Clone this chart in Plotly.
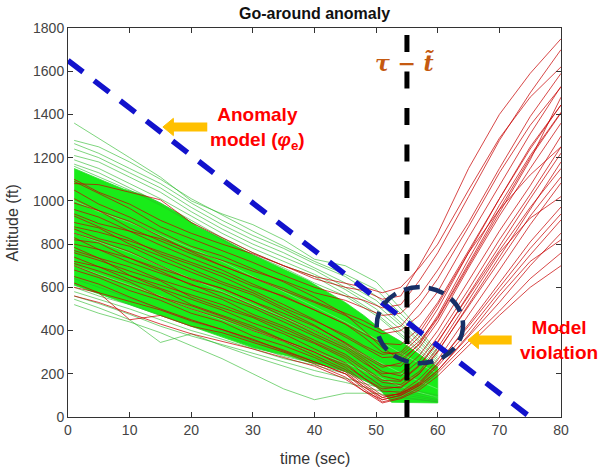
import plotly.graph_objects as go

# ---------------- data ----------------
T_GREEN = [1, 5, 10, 15, 20, 25, 30, 35, 40, 45, 50, 55, 60]

# dense (solid) green region: upper and lower envelopes
BAND_UP_T = [1, 3, 6, 9, 12, 15, 18, 21, 24, 27, 30, 33, 36, 39, 42, 45, 48, 51, 54, 57, 60]
BAND_UP_A = [1150, 1125, 1090, 1055, 1030, 990, 940, 880, 840, 795, 750, 710, 670, 630, 580, 530, 470, 400, 350, 290, 230]
BAND_LO_T = [60, 56, 52.5, 51.5, 50, 48, 45, 42, 39, 36, 33, 30, 27, 24, 21, 18, 15, 12, 9, 6, 3, 1]
BAND_LO_A = [65, 65, 68, 100, 140, 170, 210, 235, 255, 280, 300, 320, 350, 380, 410, 440, 470, 500, 530, 560, 590, 610]

GREEN_UPPER = [
    [1360, 1290, 1200, 1110, 1000, 940, 890, 820, 730, 700, 625, 470, 300],
    [1280, 1250, 1180, 1100, 1010, 935, 860, 790, 720, 660, 590, 450, 290],
    [1265, 1220, 1150, 1080, 990, 910, 840, 780, 710, 650, 560, 430, 280],
    [1240, 1200, 1130, 1060, 970, 890, 820, 760, 690, 620, 540, 410, 270],
    [1210, 1180, 1110, 1040, 950, 870, 800, 740, 680, 600, 520, 400, 260],
    [1190, 1150, 1080, 1010, 930, 850, 780, 720, 660, 590, 500, 380, 250],
    [1170, 1130, 1060, 990, 910, 830, 760, 700, 650, 570, 480, 360, 240],
    [1160, 1110, 1050, 980, 900, 820, 750, 690, 620, 560, 470, 350, 230],
]
GREEN_LOWER = [
    [520, 480, 440, 390, 330, 270, 200, 130, 80, 110, 110, 85, 70],
    [545, 505, 450, 345, 385, 330, 280, 235, 190, 160, 125, 90, 70],
    [560, 525, 475, 420, 375, 335, 295, 255, 215, 180, 140, 100, 75],
    [580, 545, 500, 450, 400, 360, 315, 270, 240, 200, 150, 110, 80],
    [600, 560, 520, 470, 420, 380, 330, 280, 250, 210, 160, 120, 90],
    [640, 600, 550, 500, 440, 400, 350, 300, 265, 220, 170, 130, 100],
]
GREEN_INNER = [
    [1000, 950, 900, 840, 780, 720, 650, 580, 510, 440, 360, 280, 200],
    [850, 810, 760, 700, 640, 580, 520, 460, 400, 330, 260, 190, 130],
    [700, 660, 610, 560, 500, 450, 400, 350, 300, 250, 190, 130, 90],
]

T_RED = [1, 5, 10, 15, 20, 25, 30, 35, 40, 45, 48, 51, 54, 57, 60, 65, 70, 75, 80]
RED_LINES = [
    [1080, 1075, 1040, 1005, 900, 830, 760, 700, 640, 600, 585, 545, 560, 700, 850, 1150, 1400, 1590, 1750],
    [1100, 1040, 985, 910, 850, 800, 755, 700, 650, 620, 600, 575, 600, 690, 800, 1050, 1290, 1480, 1620],
    [960, 925, 860, 825, 770, 725, 675, 630, 575, 540, 505, 470, 480, 560, 680, 900, 1150, 1390, 1590],
    [1010, 955, 905, 835, 765, 700, 645, 585, 530, 470, 425, 385, 400, 470, 580, 830, 1070, 1310, 1530],
    [880, 855, 815, 765, 715, 665, 605, 560, 495, 430, 385, 340, 335, 410, 530, 770, 1010, 1240, 1444],
    [930, 880, 825, 755, 705, 650, 585, 520, 450, 370, 320, 275, 280, 350, 460, 710, 960, 1200, 1407],
    [850, 815, 765, 700, 635, 595, 535, 480, 420, 345, 290, 240, 235, 320, 440, 690, 930, 1150, 1360],
    [800, 775, 715, 665, 615, 555, 505, 440, 375, 310, 250, 200, 205, 285, 400, 630, 860, 1070, 1300],
    [785, 735, 695, 635, 590, 545, 475, 420, 355, 290, 230, 170, 165, 235, 345, 570, 790, 1010, 1221],
    [760, 725, 675, 630, 555, 505, 460, 395, 340, 270, 200, 140, 135, 200, 305, 510, 720, 930, 1111],
    [740, 695, 655, 595, 545, 495, 435, 385, 315, 250, 180, 120, 115, 175, 265, 470, 680, 890, 1083],
    [720, 695, 635, 590, 520, 470, 420, 355, 300, 230, 160, 100, 105, 155, 245, 430, 620, 810, 972],
    [700, 655, 605, 555, 500, 455, 400, 350, 285, 220, 150, 90, 110, 150, 235, 400, 580, 750, 912],
    [680, 645, 585, 540, 480, 440, 375, 330, 275, 210, 140, 80, 100, 145, 215, 370, 530, 700, 851],
    [650, 615, 555, 500, 450, 405, 360, 305, 255, 200, 130, 70, 90, 135, 205, 350, 490, 640, 759],
    [620, 575, 450, 470, 420, 390, 345, 300, 245, 185, 120, 65, 85, 125, 190, 330, 470, 600, 700],
    [1050, 985, 925, 855, 790, 745, 685, 625, 555, 475, 400, 320, 265, 335, 455, 700, 950, 1190, 1480],
    [900, 875, 800, 745, 685, 625, 575, 505, 445, 380, 330, 290, 300, 390, 520, 760, 960, 1120, 1250],
    [830, 775, 735, 685, 640, 595, 535, 465, 400, 330, 270, 210, 190, 260, 370, 590, 820, 1030, 1250],
    [820, 805, 735, 675, 610, 575, 515, 455, 385, 320, 260, 190, 170, 240, 350, 560, 770, 970, 1150],
    [870, 825, 790, 725, 670, 615, 565, 495, 425, 340, 280, 230, 250, 340, 470, 730, 980, 1210, 1410],
    [990, 955, 875, 815, 755, 700, 645, 595, 535, 480, 445, 400, 420, 520, 640, 880, 1130, 1350, 1527],
    [600, 575, 535, 495, 445, 405, 355, 310, 255, 200, 140, 90, 110, 160, 250, 420, 600, 780, 940],
    [710, 675, 625, 555, 515, 465, 410, 355, 300, 240, 180, 130, 140, 200, 300, 520, 740, 960, 1180],
    [770, 735, 655, 610, 565, 520, 465, 410, 345, 280, 220, 160, 150, 210, 320, 540, 760, 920, 1020],
    [940, 895, 860, 795, 735, 680, 615, 555, 495, 430, 370, 300, 290, 370, 500, 760, 1010, 1250, 1444],
    [560, 530, 480, 430, 385, 350, 315, 275, 235, 175, 120, 80, 100, 145, 215, 380, 560, 720, 820],
    [1090, 1035, 965, 880, 825, 770, 715, 655, 600, 560, 540, 505, 520, 630, 760, 1020, 1280, 1500, 1700],
]

MODEL_T = [0, 75]
MODEL_A = [1650, 0]
CUT_T = [55, 55]
CUT_A = [0, 1768]
ELLIPSE = dict(tc=57.1, ac=425, rt=7.0, ra=176)

X_TICKS = [0, 10, 20, 30, 40, 50, 60, 70, 80]
Y_TICKS = [0, 200, 400, 600, 800, 1000, 1200, 1400, 1600, 1800]

# callout arrows: (head time, tail time, altitude)
ARROWS = [(15.4, 22.6, 1342), (64.9, 72.0, 356)]

# ---------------- figure ----------------
fig = go.Figure()

fig.add_trace(go.Scatter(
    x=BAND_UP_T + BAND_LO_T, y=BAND_UP_A + BAND_LO_A,
    fill="toself", fillcolor="rgb(25,236,25)", mode="lines",
    line=dict(color="rgba(40,220,40,0.8)", width=1), hoverinfo="skip"))

for ln in GREEN_INNER:
    fig.add_trace(go.Scatter(x=T_GREEN, y=ln, mode="lines",
                             line=dict(color="rgba(150,235,150,0.55)", width=1), hoverinfo="skip"))
for ln in GREEN_UPPER + GREEN_LOWER:
    fig.add_trace(go.Scatter(x=T_GREEN, y=ln, mode="lines",
                             line=dict(color="rgba(40,185,40,0.6)", width=1), hoverinfo="skip"))

for ln in RED_LINES:
    fig.add_trace(go.Scatter(x=T_RED, y=ln, mode="lines",
                             line=dict(color="rgba(200,0,0,0.72)", width=1), hoverinfo="skip"))

fig.add_trace(go.Scatter(x=MODEL_T, y=MODEL_A, mode="lines",
                         line=dict(color="#1212cc", width=5.5, dash="19px,14px"), hoverinfo="skip"))
fig.add_trace(go.Scatter(x=CUT_T, y=CUT_A, mode="lines",
                         line=dict(color="#000000", width=5, dash="17px,19.5px"), hoverinfo="skip"))

fig.add_shape(type="circle", xref="x", yref="y",
              x0=ELLIPSE["tc"] - ELLIPSE["rt"], x1=ELLIPSE["tc"] + ELLIPSE["rt"],
              y0=ELLIPSE["ac"] - ELLIPSE["ra"], y1=ELLIPSE["ac"] + ELLIPSE["ra"],
              line=dict(color="#172f66", width=4.5, dash="16px,9px"))

# arrows as a thick shaft plus a triangular head
for head, tail, alt in ARROWS:
    base = head + 1.7
    fig.add_shape(type="line", xref="x", yref="y", x0=base - 0.1, x1=tail, y0=alt, y1=alt,
                  line=dict(color="#ffc000", width=9))
    fig.add_shape(type="path", xref="x", yref="y",
                  path=f"M {head} {alt} L {base} {alt + 40} L {base} {alt - 40} Z",
                  fillcolor="#ffc000", line=dict(color="#ffc000", width=1))

txt_font = dict(family="Liberation Sans, Arial, sans-serif", size=19, color="#ff0000")
fig.add_annotation(x=30.8, y=1337, xref="x", yref="y", showarrow=False,
                   text="<b>Anomaly<br>model (<i>φ</i><sub>e</sub>)</b>", font=txt_font, align="center")
fig.add_annotation(x=79.7, y=356, xref="x", yref="y", showarrow=False,
                   text="<b>Model<br>violation</b>", font=txt_font, align="center")
fig.add_annotation(x=54.6, y=1638, xref="x", yref="y", showarrow=False,
                   text="<b><i>τ − t̃</i></b>",
                   font=dict(family="DejaVu Serif, serif", size=22, color="#c55a11"))

lab_font = dict(family="Liberation Sans, Arial, sans-serif", size=16, color="#333333")
fig.add_annotation(x=0.5, y=-0.1054, xref="paper", yref="paper", showarrow=False,
                   text="time (sec)", font=lab_font, yanchor="middle")
fig.add_annotation(x=-0.1116, y=0.5, xref="paper", yref="paper", showarrow=False,
                   text="Altitude (ft)", font=lab_font, textangle=-90, xanchor="center")

axis_common = dict(showgrid=False, zeroline=False, showline=True, linecolor="#333333", linewidth=1,
                   mirror="ticks", ticks="inside", ticklen=5, tickcolor="#333333",
                   tickfont=dict(family="Liberation Sans, Arial, sans-serif", size=14, color="#444444"))

fig.update_layout(
    width=598, height=468,
    margin=dict(l=68, r=37, t=28, b=51),
    paper_bgcolor="white", plot_bgcolor="white",
    showlegend=False,
    title=dict(text="<b>Go-around anomaly</b>", x=0.5, xref="paper", y=1 - 13.5 / 468,
               yref="container", yanchor="middle", xanchor="center",
               font=dict(family="Liberation Sans, Arial, sans-serif", size=16, color="#111111")),
    xaxis=dict(range=[0, 80], tickvals=X_TICKS, **axis_common),
    yaxis=dict(range=[0, 1800], tickvals=Y_TICKS, **axis_common),
)

fig.write_html("out.html", config={"displayModeBar": False},
               post_script="document.body.style.margin='0';document.body.style.padding='0';")
